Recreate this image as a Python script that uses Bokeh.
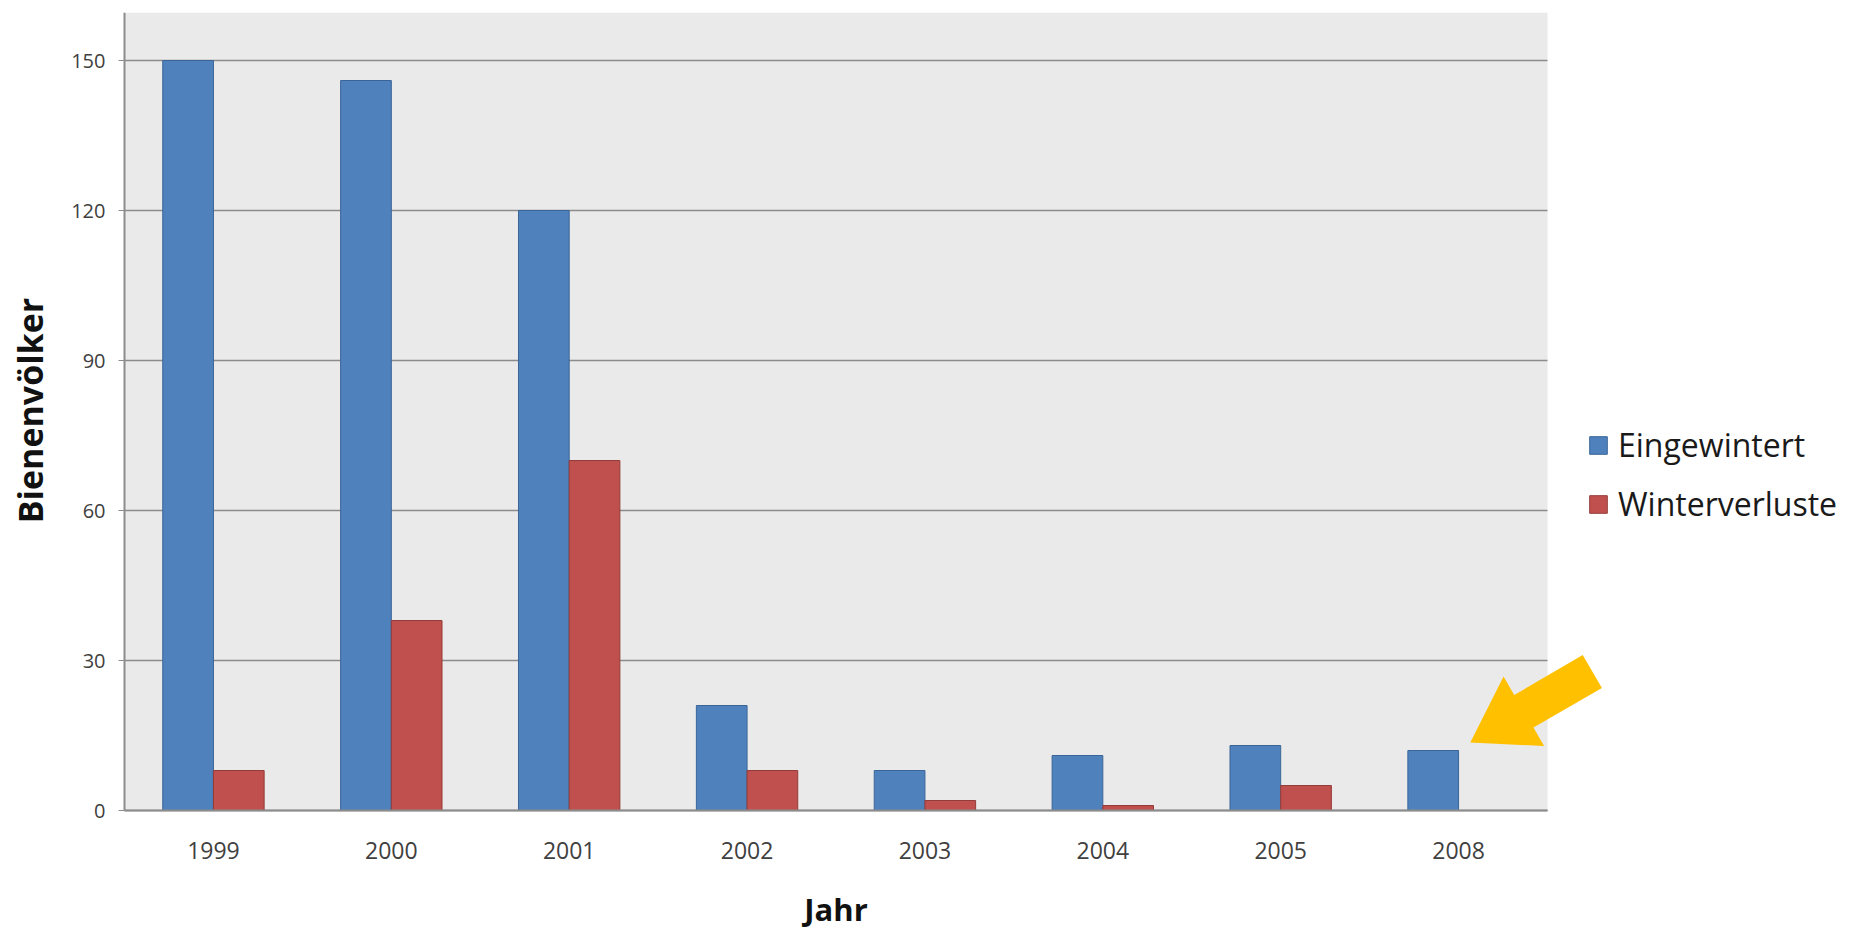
import math
import numpy as np
from bokeh.plotting import figure
from bokeh.models import Range1d, FixedTicker, PolyAnnotation, ColumnDataSource, Grid, Label
from bokeh.transform import dodge
from bokeh.embed import file_html
from bokeh.resources import INLINE

# ---- data ----
years = ["1999", "2000", "2001", "2002", "2003", "2004", "2005", "2008"]
eingewintert = [150, 146, 120, 21, 8, 11, 13, 12]
winterverluste = [8, 38, 70, 8, 2, 1, 5, 0]
y_ticks = [0, 30, 60, 90, 120, 150]
series_names = ["Eingewintert", "Winterverluste"]

# highlight arrow near the 2008 bar (category units on x, values on y)
arrow_x = [7.566, 7.981, 7.921, 8.306, 8.198, 7.813, 7.753]
arrow_y = [13.6, 12.9, 16.6, 24.5, 31.1, 23.1, 26.8]

FONT = "Open Sans"
BLUE, BLUE_EDGE = "#4F81BD", "#3B6598"
RED, RED_EDGE = "#C0504D", "#943C39"
GRID = "#8C8C8C"
PLOT_BG = "#EAEAEA"

n = len(years)
xpos = np.arange(n) + 0.5
src = ColumnDataSource(dict(x=xpos, ein=eingewintert, win=winterverluste))

# ---- layout (pixels) ----
W, H = 1849, 931
PLOT_LEFT, PLOT_RIGHT = 124, 1547   # grey plot area, horizontal
TOP = 12                            # frame top
ZERO_PX = 810                       # pixel row of value 0
PX_PER_UNIT = 5.0
cat_px = (PLOT_RIGHT - PLOT_LEFT) / n
x_start = -PLOT_LEFT / cat_px                 # frame spans the whole canvas width
x_end = (W - PLOT_LEFT) / cat_px
y_top = (ZERO_PX - TOP) / PX_PER_UNIT         # top of grey plot area
y_bottom = -(H - ZERO_PX) / PX_PER_UNIT       # frame runs to bottom edge


def px_x(px):
    return (px - PLOT_LEFT) / cat_px


def px_y(py):
    return (ZERO_PX - py) / PX_PER_UNIT


p = figure(width=W, height=H, title=None,
           x_range=Range1d(x_start, x_end), y_range=Range1d(y_bottom, y_top),
           output_backend="svg", toolbar_location=None,
           min_border_left=0, min_border_right=0,
           min_border_top=TOP, min_border_bottom=0)

p.background_fill_color = "white"
p.border_fill_color = "white"
p.outline_line_color = None

# grey plot area
p.quad(left=[0], right=[n], bottom=[0], top=[y_top], fill_color=PLOT_BG,
       line_color=None, level="image")

bw = 0.285
p.vbar(x=dodge("x", -bw / 2), top="ein", width=bw, source=src,
       fill_color=BLUE, line_color=BLUE_EDGE, line_width=1, legend_label=series_names[0])
p.vbar(x=dodge("x", bw / 2), top="win", width=bw, source=src,
       fill_color=RED, line_color=RED_EDGE, line_width=1, legend_label=series_names[1])

p.add_layout(PolyAnnotation(xs=arrow_x, ys=arrow_y, fill_color="#FFC000", fill_alpha=1.0,
                            line_color=None))

# grid
p.xgrid.visible = False
p.ygrid.grid_line_color = GRID
p.ygrid.grid_line_width = 1.5
p.ygrid.ticker = FixedTicker(ticks=y_ticks)
if "cross_bounds" in Grid.properties():
    p.ygrid.cross_bounds = (0, n)

# y axis, pinned at the left edge of the plot area
ya = p.yaxis[0]
ya.fixed_location = 0
ya.ticker = FixedTicker(ticks=y_ticks)
ya.bounds = (0, y_top)
ya.minor_tick_line_color = None
ya.major_tick_in = 0
ya.major_tick_out = 6
ya.major_tick_line_color = GRID
ya.axis_line_color = GRID
ya.axis_line_width = 2
ya.major_label_text_font = FONT
ya.major_label_text_font_size = "20px"
ya.major_label_text_color = "#404040"
ya.major_label_standoff = 13

# x axis, pinned at value 0
xa = p.xaxis[0]
xa.fixed_location = 0
xa.ticker = FixedTicker(ticks=list(xpos))
xa.major_label_overrides = {float(v): y for v, y in zip(xpos, years)}
xa.minor_tick_line_color = None
xa.bounds = (0, n)
xa.major_tick_in = 0
xa.major_tick_out = 0
xa.axis_line_color = GRID
xa.axis_line_width = 2
xa.major_label_text_font = FONT
xa.major_label_text_font_size = "23px"
xa.major_label_text_color = "#404040"
xa.major_label_standoff = 31

# axis titles
p.add_layout(Label(x=n / 2, y=px_y(908), text="Jahr",
                   text_align="center", text_baseline="middle",
                   text_font=FONT, text_font_size="31px", text_font_style="bold",
                   text_color="#111111"))
p.add_layout(Label(x=px_x(29), y=px_y(410), text="Bienenvölker", angle=math.pi / 2,
                   text_align="center", text_baseline="middle",
                   text_font=FONT, text_font_size="34px", text_font_style="bold",
                   text_color="#111111"))

# legend
lg = p.legend[0]
lg.location = (1587, 406)
lg.border_line_color = None
lg.background_fill_alpha = 0
lg.padding = 0
lg.margin = 0
lg.spacing = 16
lg.glyph_width = 22
lg.glyph_height = 22
lg.label_standoff = 9
lg.label_text_font = FONT
lg.label_text_font_size = "32px"
lg.label_text_color = "#1a1a1a"

open("out.html", "w").write(file_html(p, INLINE))
